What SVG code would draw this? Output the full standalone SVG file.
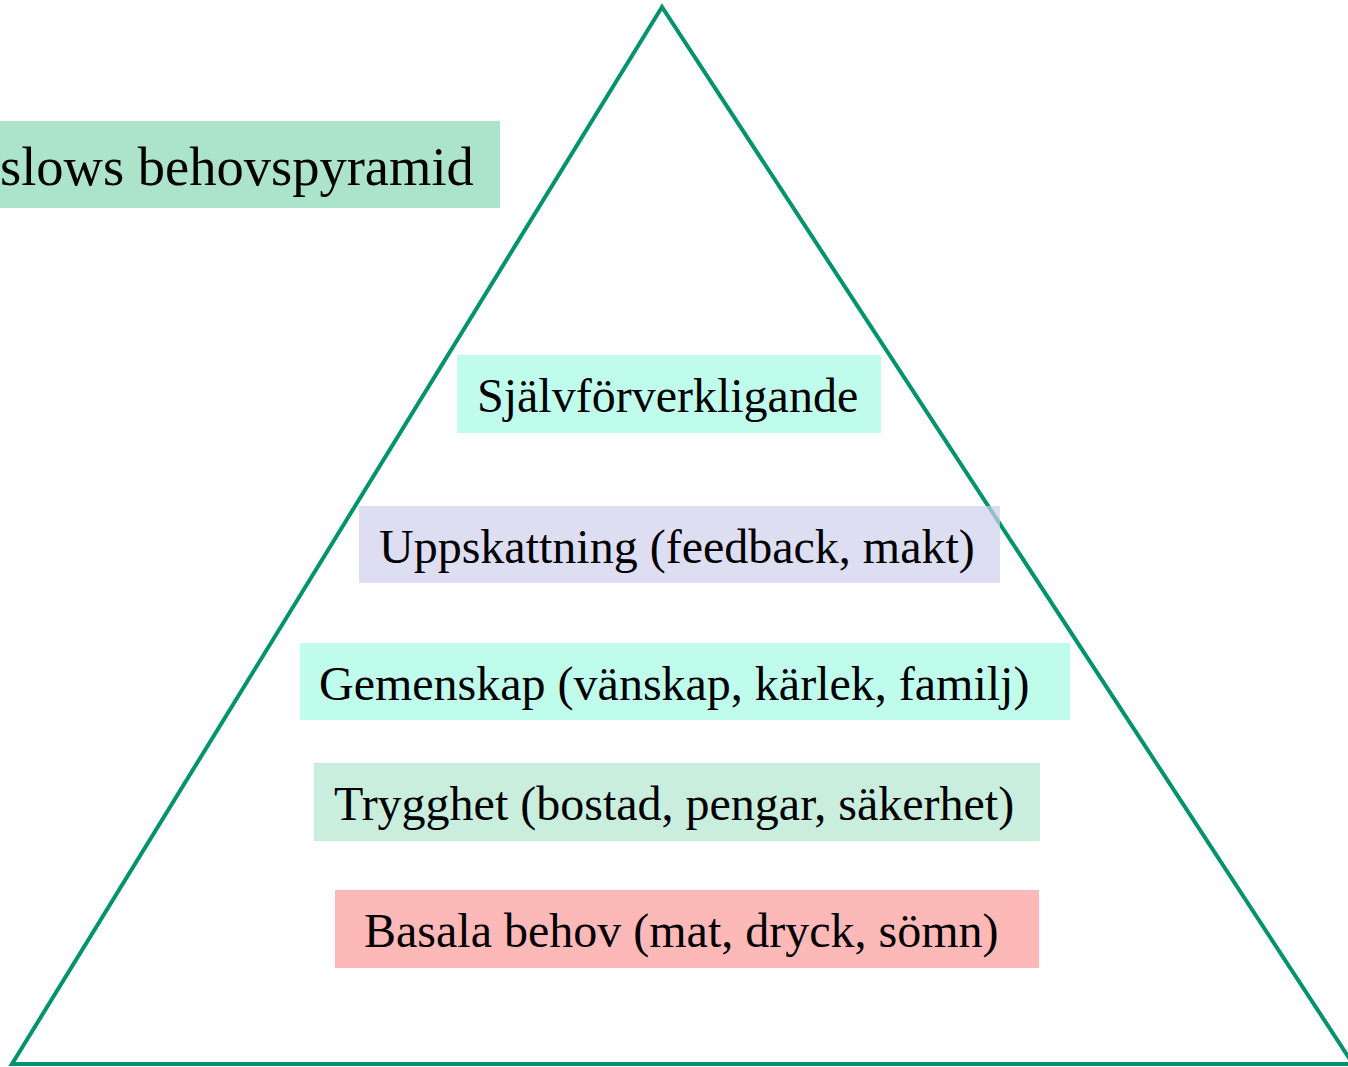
<svg xmlns="http://www.w3.org/2000/svg" width="1348" height="1067" viewBox="0 0 1348 1067">
<style>
.lbl{font-family:"Liberation Serif","Times New Roman",serif;font-size:48px;fill:#000;}
.title{font-family:"Liberation Serif","Times New Roman",serif;font-size:54.5px;fill:#000;}
.pyr{fill:none;stroke:#00936E;stroke-width:4;stroke-linejoin:miter;}
</style>
<rect x="0" y="0" width="1348" height="1067" fill="#fff"/>
<g id="pyramid">
<path class="pyr" d="M662,7 L12,1064 L1353,1064 Z"/>
</g>
<g id="title">
<rect x="-10" y="121" width="510" height="87" fill="#ABE3CB"/>
<text class="title" x="0" y="185">slows behovspyramid</text>
</g>
<g id="sjalv">
<rect x="457" y="355" width="424" height="78" fill="#C0FCEC"/>
<text class="lbl" x="477" y="412">Självförverkligande</text>
</g>
<g id="uppskattning">
<rect x="359" y="506" width="641" height="77" fill="#D0D0EE" fill-opacity="0.7"/>
<text class="lbl" x="379" y="563">Uppskattning (feedback, makt)</text>
</g>
<g id="gemenskap">
<rect x="300" y="643" width="770" height="77" fill="#C0FCEC"/>
<text class="lbl" x="319" y="700">Gemenskap (vänskap, kärlek, familj)</text>
</g>
<g id="trygghet">
<rect x="314" y="763" width="726" height="78" fill="#CAEEDE"/>
<text class="lbl" x="334" y="820">Trygghet (bostad, pengar, säkerhet)</text>
</g>
<g id="basala">
<rect x="335" y="890" width="704" height="78" fill="#FDB8B8"/>
<text class="lbl" x="364" y="947">Basala behov (mat, dryck, sömn)</text>
</g>
<g id="connectors"></g>
</svg>
